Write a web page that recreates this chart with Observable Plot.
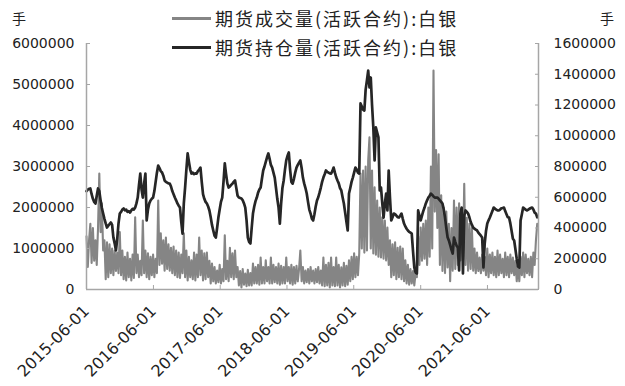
<!DOCTYPE html>
<html><head><meta charset="utf-8">
<script src="https://cdn.jsdelivr.net/npm/d3@7"></script>
<script src="https://cdn.jsdelivr.net/npm/@observablehq/plot@0.6"></script>
<style>
body{margin:0;background:#fff}
#wrap{position:relative;width:625px;height:386px;overflow:hidden;background:#fff}
.lg{position:absolute;display:flex;align-items:center;height:24px;font-family:"Noto Sans CJK SC",sans-serif;font-size:18px;color:#222;letter-spacing:2px;white-space:nowrap}
.lg i{display:inline-block;width:39px;height:3px;margin-right:4px}
.unit{position:absolute;font-family:"Noto Sans CJK SC",sans-serif;font-size:14px;color:#222;line-height:20px}
</style></head><body><div id="wrap"></div>
<script>
// weekly observations starting at this date
const startDate = "2015-06-01";
const stepDays = 7;
const xEndDate = "2022-03-07";
const seriesNames = ["期货成交量(活跃合约):白银", "期货持仓量(活跃合约):白银"];
const unitLabel = "手";
// 期货成交量, in units of 10,000 lots
const volume = [
130,55,120,
160,65,150,70,
120,60,
150,283,140,
210,95,
120,25,115,30,110,
40,100,35,95,45,
90,40,140,35,
95,25,80,22,90,30,75,22,85,28,
176,40,
85,30,70,35,
168,40,95,
30,88,25,80,35,85,30,75,
40,217,
60,137,63,120,
46,127,50,110,46,102,40,105,
35,95,30,90,28,85,
40,137,
30,95,22,80,30,71,25,90,22,85,30,
127,35,
95,22,88,25,90,30,70,
15,63,20,55,15,46,18,60,15,50,20,
132,25,
70,20,102,30,
88,25,95,30,
55,10,45,5,50,12,39,8,48,10,
40,10,
63,15,
55,15,60,12,78,15,55,15,71,20,55,15,78,15,60,18,55,15,63,12,58,15,
55,15,
78,20,
55,15,60,12,55,15,58,20,50,
95,20,
55,15,46,18,50,15,55,20,46,15,50,18,55,15,46,
10,78,8,60,10,65,5,78,10,55,8,78,10,60,5,54,10,65,8,58,12,71,20,80,25,88,30,
80,35,88,
283,100,290,90,300,95,315,371,100,290,88,249,85,217,80,200,78,176,75,168,71,151,60,
120,30,110,35,115,25,102,30,105,25,100,
20,71,15,60,12,50,15,45,10,39,
30,130,60,151,70,160,75,168,60,
200,80,
300,100,
534,
190,340,150,330,60,230,45,200,40,190,
54,160,20,150,
46,217,50,200,60,
210,71,190,
70,258,60,
175,46,160,50,150,
46,100,40,90,45,78,40,85,46,80,
35,100,30,85,40,90,35,80,30,95,35,85,40,75,30,90,35,80,30,85,40,78,35,70,
20,60,20,
80,35,90,30,85,40,75,35,80,30,
90,60,120,160
];
// 期货持仓量, in units of 1,000 lots
const openInterest = [
640,650,655,657,620,590,570,559,610,657,
640,580,530,494,460,430,403,415,425,436,
420,338,300,254,330,430,494,505,520,527,
515,520,505,510,501,515,525,520,533,560,
598,680,754,650,598,690,754,449,520,560,
579,590,598,640,700,760,806,790,770,761,
740,709,700,695,690,689,670,640,620,598,
580,560,545,533,440,364,560,663,780,885,
830,780,754,760,750,755,754,770,780,793,
700,620,590,570,559,540,514,470,420,384,
350,338,400,468,520,570,598,700,820,750,
690,663,670,680,689,700,709,660,610,598,
595,592,580,560,533,450,338,310,299,400,
494,540,575,598,630,650,663,720,774,800,
830,860,885,850,810,793,760,728,660,590,
533,429,560,660,709,780,840,870,891,780,
700,689,720,760,793,810,825,839,790,728,
690,660,624,570,520,494,460,449,490,540,
579,600,630,663,700,728,750,774,765,760,
755,754,770,793,760,730,709,690,660,644,
600,559,500,440,384,624,660,700,728,760,
793,780,760,754,1210,1190,1170,1164,1300,1359,
1424,1314,1379,1200,1054,839,1054,1020,989,644,
663,560,468,560,624,514,774,600,449,470,
494,490,480,470,468,480,494,460,429,410,
395,384,375,370,364,250,143,110,104,514,
480,449,480,510,533,560,580,598,610,624,
615,605,598,598,598,590,580,570,559,520,
468,400,340,319,290,260,234,338,310,285,
273,124,494,533,104,480,514,505,494,470,
440,420,403,395,390,384,370,360,350,338,
143,300,380,429,450,468,490,510,533,525,
520,515,514,520,528,530,533,510,490,470,
468,430,380,330,319,260,200,150,143,449,
490,533,525,520,514,520,525,530,533,520,
500,494,470
];
const xTickLabels = ["2015-06-01","2016-06-01","2017-06-01","2018-06-01","2019-06-01","2020-06-01","2021-06-01"];
const leftTicks = [0,1000000,2000000,3000000,4000000,5000000,6000000];
const rightTicks = [0,200000,400000,600000,800000,1000000,1200000,1400000,1600000];

const colors = ["#858585", "#262626"];
const axisColor = "#a6a6a6";
const ratio = leftTicks[leftTicks.length-1] / rightTicks[rightTicks.length-1];
const t0 = new Date(startDate + "T00:00:00Z");
const volRows = volume.map((v, i) => ({date: d3.utcDay.offset(t0, i*stepDays), value: v*10000}));
const oiRows = openInterest.map((v, i) => ({date: d3.utcDay.offset(t0, i*stepDays), value: v*1000*ratio}));
const xDom = [t0, new Date(xEndDate + "T00:00:00Z")];

const chart = Plot.plot({
  width: 625, height: 386,
  marginTop: 43, marginBottom: 97, marginLeft: 86, marginRight: 87,
  style: {fontFamily: "DejaVu Sans", fontSize: "14px", color: "#222", background: "white"},
  x: {type: "utc", domain: xDom, label: null},
  y: {domain: [leftTicks[0], leftTicks[leftTicks.length-1]], label: null},
  marks: [
    Plot.line(volRows, {x: "date", y: "value", stroke: colors[0], strokeWidth: 2.1}),
    Plot.line(oiRows, {x: "date", y: "value", stroke: colors[1], strokeWidth: 2.7}),
    Plot.ruleX(xDom, {stroke: axisColor, strokeWidth: 1.5}),
    Plot.ruleY([0], {stroke: axisColor, strokeWidth: 1.5}),
    Plot.axisY(leftTicks, {anchor: "left", label: null, tickSize: -4, tickPadding: 16, tickFormat: d => String(d), stroke: axisColor}),
    Plot.axisY(rightTicks.map(d => d*ratio), {anchor: "right", label: null, tickSize: -4, tickPadding: 19, tickFormat: d => String(Math.round(d/ratio)), stroke: axisColor}),
    Plot.axisX(xTickLabels.map(s => new Date(s + "T00:00:00Z")), {anchor: "bottom", label: null, tickSize: -4, tickPadding: 23, dx: 0, tickRotate: -45, textAnchor: "end", lineAnchor: "middle", fontSize: 16, tickFormat: d3.utcFormat("%Y-%m-%d"), stroke: axisColor})
  ]
});
const wrap = document.getElementById("wrap");
wrap.appendChild(chart);

// legend overlay (top centre, as in the original)
[18, 47].forEach((cy, k) => {
  const d = document.createElement("div");
  d.className = "lg";
  d.style.left = "172px";
  d.style.top = (cy - 12) + "px";
  d.innerHTML = `<i style="background:${colors[k]}"></i><span>${seriesNames[k]}</span>`;
  wrap.appendChild(d);
});
["12px", "600px"].forEach(x => {
  const u = document.createElement("div");
  u.className = "unit";
  u.style.left = x;
  u.style.top = "8px";
  u.textContent = unitLabel;
  wrap.appendChild(u);
});
</script>
</body></html>
